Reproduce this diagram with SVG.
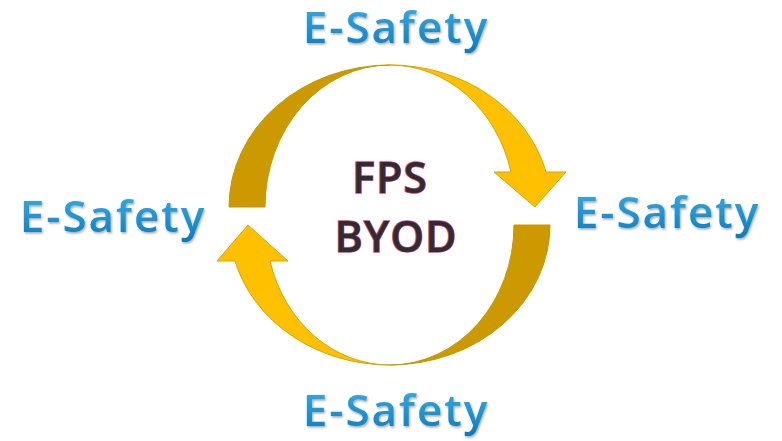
<svg xmlns="http://www.w3.org/2000/svg" width="782" height="441" viewBox="0 0 782 441">
  <defs>
    <linearGradient id="blue" x1="0" y1="0" x2="0" y2="1">
      <stop offset="0" stop-color="#3DB4EA"/>
      <stop offset="1" stop-color="#0A78BC"/>
    </linearGradient>
    <filter id="sh" x="-20%" y="-50%" width="140%" height="200%">
      <feDropShadow dx="1" dy="1.5" stdDeviation="0.8" flood-color="#000" flood-opacity="0.35"/>
    </filter>
  </defs>
  <style>
    .lbl { font-family: "Open Sans", "Liberation Sans", sans-serif; font-weight: 600; font-size: 44px; letter-spacing: 2px; fill: url(#blue); text-anchor: middle; filter: url(#sh); }
    .ctr { font-family: "Open Sans", "Liberation Sans", sans-serif; font-weight: 600; font-size: 43px; letter-spacing: 1px; fill: #2E2E2E; stroke: #E8479A; stroke-width: 1.4; paint-order: stroke; text-anchor: middle; }
    .light { fill: #FFC000; stroke: #D9A400; stroke-width: 1; }
    .dark { fill: #CC9A00; stroke: #C79500; stroke-width: 1; }
  </style>
  <rect width="782" height="441" fill="#FFFFFF"/>
  <g id="connectors">
    <g id="arrow-top">
      <path class="dark" d="M 229,207 A 161 142 0 0 1 390,65 A 125 142 0 0 0 265,207 Z"/>
      <path class="light" d="M 390,65 A 161 142 0 0 1 546,172 L 566,172 L 535,207 L 494,172 L 511,172 A 125 142 0 0 0 390,65 Z"/>
    </g>
    <g id="arrow-bottom">
      <path class="dark" d="M 550,225 A 160 140 0 0 1 390,365 A 124 140 0 0 0 514,225 Z"/>
      <path class="light" d="M 390,365 A 160 140 0 0 1 235,261 L 217,261 L 248,225 L 288,261 L 270,261 A 124 140 0 0 0 390,365 Z"/>
    </g>
  </g>
  <g id="node-center">
    <text class="ctr" x="390" y="193">FPS</text>
    <text class="ctr" x="396" y="252">BYOD</text>
  </g>
  <g id="node-top"><text class="lbl" x="396" y="43">E-Safety</text></g>
  <g id="node-left"><text class="lbl" x="113" y="232">E-Safety</text></g>
  <g id="node-right"><text class="lbl" x="667" y="228">E-Safety</text></g>
  <g id="node-bottom"><text class="lbl" x="396" y="426">E-Safety</text></g>
</svg>
